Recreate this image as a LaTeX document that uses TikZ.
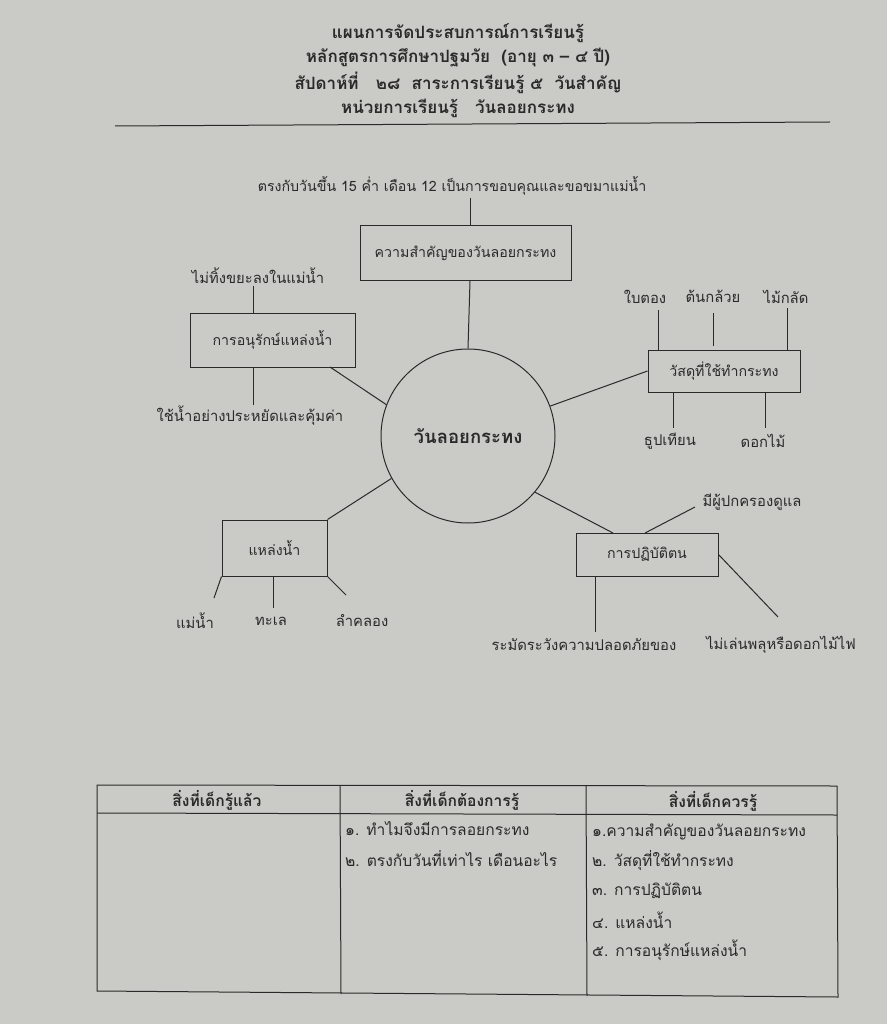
\documentclass[tikz,border=0pt]{standalone}
\usepackage{fontspec}
\setmainfont[Script=Thai]{Loma}
\usetikzlibrary{calc}
\definecolor{paper}{HTML}{CACAC6}
\definecolor{ink}{HTML}{2A2A2A}
\begin{document}
\begin{tikzpicture}[x=1pt,y=-1pt,
  every node/.style={text=ink},
  ln/.style={draw=ink,line width=1pt},
  bx/.style={draw=ink,line width=1pt,inner sep=0pt,font=\fontsize{14.2}{16}\selectfont},
  lbl/.style={inner sep=1pt,font=\fontsize{14.8}{16}\selectfont},
  ttl/.style={inner sep=0pt,font=\bfseries\fontsize{17}{19}\selectfont},
  tb/.style={inner sep=0pt,anchor=west,font=\fontsize{15.6}{18}\selectfont},
  th/.style={inner sep=0pt,font=\bfseries\fontsize{15.6}{18}\selectfont}]
\fill[paper] (0,0) rectangle (887,1024);
\useasboundingbox (0,0) rectangle (887,1024);
% title
\node[ttl] (t1) at (458,33) {แผนการจัดประสบการณ์การเรียนรู้};
\node[ttl] (t2) at (458,58) {หลักสูตรการศึกษาปฐมวัย\ \ (อายุ ๓ – ๔ ปี)};
\node[ttl] (t3) at (458,83) {สัปดาห์ที่\ \ \ ๒๘\ \ สาระการเรียนรู้ ๕\ \ วันสำคัญ};
\node[ttl] (t4) at (458,108) {หน่วยการเรียนรู้\ \ \ วันลอยกระทง};
\coordinate (r1) at (115,126);
\coordinate (r2) at (830,122);
\draw[ln] (r1) -- (r2);
% centre
\node[draw=ink,line width=1pt,circle,minimum size=174pt,inner sep=0pt,font=\bfseries\fontsize{18.5}{20}\selectfont] (c) at (468,436) {วันลอยกระทง};
% importance
\node[lbl,font=\fontsize{14.2}{16}\selectfont] (k0) at (452,186) {ตรงกับวันขึ้น 15 ค่ำ เดือน 12 เป็นการขอบคุณและขอขมาแม่น้ำ};
\node[bx,minimum width=211pt,minimum height=54pt] (k) at (465.5,253) {ความสำคัญของวันลอยกระทง};
\coordinate (k0a) at (470,198);
\draw[ln] (k0a) -- (k0a |- k.north);
\draw[ln] (k.south -| k0a) -- (c.90);
% conservation
\node[bx,minimum width=165pt,minimum height=54pt] (a) at (272.5,340) {การอนุรักษ์แหล่งน้ำ};
\node[lbl] (a1) at (258,276) {ไม่ทิ้งขยะลงในแม่น้ำ};
\node[lbl] (a2) at (250,416) {ใช้น้ำอย่างประหยัดและคุ้มค่า};
\coordinate (a1a) at (253,286);
\coordinate (a2a) at (253,405);
\draw[ln] (a1a) -- (a1a |- a.north);
\draw[ln] (a.south -| a2a) -- (a2a);
\coordinate (ac) at (330,367);
\draw[ln] (ac) -- (c.159);
% materials
\node[bx,minimum width=152pt,minimum height=42pt] (m) at (724,371) {วัสดุที่ใช้ทำกระทง};
\node[lbl] (m1) at (645,297) {ใบตอง};
\node[lbl] (m2) at (713,296) {ต้นกล้วย};
\node[lbl] (m3) at (786,297) {ไม้กลัด};
\node[lbl] (m4) at (670,441) {ธูปเทียน};
\node[lbl] (m5) at (763,441) {ดอกไม้};
\coordinate (m1a) at (658,310);
\coordinate (m2a) at (713,313);
\coordinate (m2b) at (713,346);
\coordinate (m3a) at (787,308);
\coordinate (m4a) at (673,428);
\coordinate (m5a) at (765,428);
\draw[ln] (m1a) -- (m1a |- m.north);
\draw[ln] (m2a) -- (m2b);
\draw[ln] (m3a) -- (m3a |- m.north);
\draw[ln] (m.south -| m4a) -- (m4a);
\draw[ln] (m.south -| m5a) -- (m5a);
\draw[ln] (m.west) -- (c.20);
% water sources
\node[bx,minimum width=105pt,minimum height=56pt] (w) at (274.5,548) {แหล่งน้ำ};
\node[lbl] (w1) at (195,621) {แม่น้ำ};
\node[lbl] (w2) at (271,621) {ทะเล};
\node[lbl] (w3) at (362,621) {ลำคลอง};
\coordinate (w1a) at (214,598);
\coordinate (w2a) at (273,608);
\coordinate (w3a) at (346,595);
\draw[ln] (w.south west) -- (w1a);
\draw[ln] (w.south -| w2a) -- (w2a);
\draw[ln] (w.south east) -- (w3a);
\draw[ln] (w.north east) -- (c.209);
% conduct
\node[bx,minimum width=142pt,minimum height=43pt] (p) at (647,554.5) {การปฏิบัติตน};
\node[lbl] (p1) at (752,502) {มีผู้ปกครองดูแล};
\node[lbl] (p2) at (584,645) {ระมัดระวังความปลอดภัยของ};
\node[lbl] (p3) at (781,645) {ไม่เล่นพลุหรือดอกไม้ไฟ};
\coordinate (pc) at (613,533);
\coordinate (pu) at (645,533);
\coordinate (p1a) at (695,507);
\coordinate (p2a) at (595,632);
\coordinate (p3a) at (778,617);
\draw[ln] (c.320) -- (pc);
\draw[ln] (pu) -- (p1a);
\draw[ln] (p.south -| p2a) -- (p2a);
\draw[ln] (p.east) -- (p3a);
% table
\coordinate (T1) at (97,785);
\coordinate (T2) at (837,786);
\coordinate (T3) at (838,997);
\coordinate (T4) at (97,991);
\coordinate (H1) at (97,813);
\coordinate (H2) at (837,815);
\coordinate (C1a) at (340,785);
\coordinate (C1b) at (341,994);
\coordinate (C2a) at (586,786);
\coordinate (C2b) at (587,996);
\draw[ln] (T1) -- (T2) -- (T3) -- (T4) -- cycle;
\draw[ln] (H1) -- (H2);
\draw[ln] (C1a) -- (C1b);
\draw[ln] (C2a) -- (C2b);
\node[th] (h1) at (217,800) {สิ่งที่เด็กรู้แล้ว};
\node[th] (h2) at (462,800) {สิ่งที่เด็กต้องการรู้};
\node[th] (h3) at (713,801) {สิ่งที่เด็กควรรู้};
\node[tb] (q1) at (345,829) {๑. ทำไมจึงมีการลอยกระทง};
\node[tb] (q2) at (345,859) {๒. ตรงกับวันที่เท่าไร เดือนอะไร};
\node[tb] (s1) at (592,832) {๑.ความสำคัญของวันลอยกระทง};
\node[tb] (s2) at (592,861) {๒. วัสดุที่ใช้ทำกระทง};
\node[tb] (s3) at (592,891) {๓. การปฏิบัติตน};
\node[tb] (s4) at (592,920) {๔. แหล่งน้ำ};
\node[tb] (s5) at (592,950) {๕. การอนุรักษ์แหล่งน้ำ};
\end{tikzpicture}
\end{document}
